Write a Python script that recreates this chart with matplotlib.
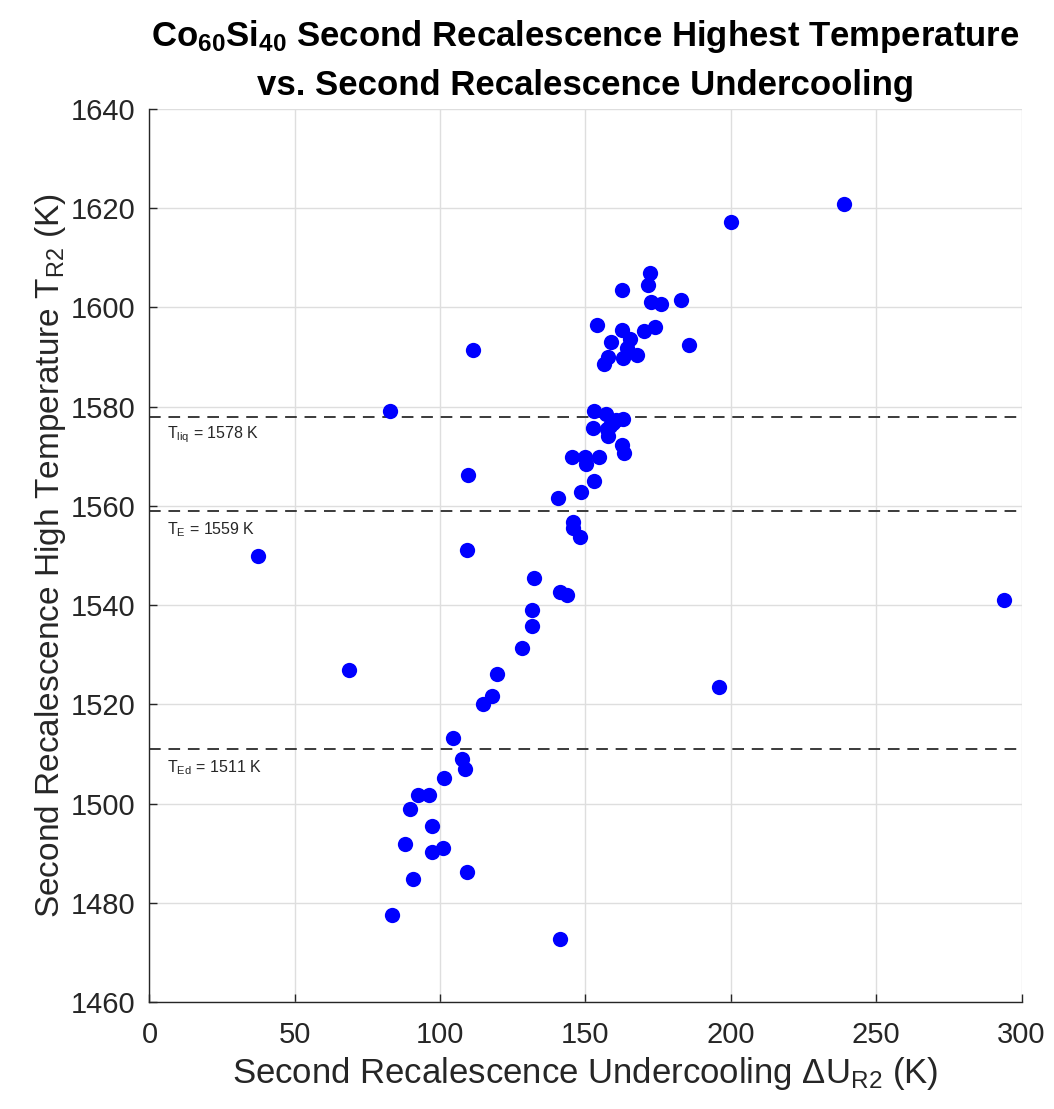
import matplotlib
matplotlib.use("Agg")
import matplotlib.pyplot as plt

# undercooling dU_R2 (K) and second recalescence high temperature T_R2 (K)
undercooling = [
    200.1, 238.8, 293.8, 195.8,
    172.1, 171.6, 162.6, 172.6, 176.0, 182.8, 154.0, 162.6, 165.4, 158.8,
    170.2, 173.9, 185.7, 164.2, 167.7, 162.9, 157.8, 156.5, 111.4,
    82.7, 109.7, 109.3, 37.2, 68.6,
    152.9, 157.0, 163.0, 159.6, 160.5, 158.5, 152.7, 157.3, 157.8, 162.4,
    163.2, 145.4, 150.0, 150.2, 154.5, 152.9, 148.3, 140.5,
    145.8, 145.8, 148.2, 132.3, 141.2, 143.5, 131.5, 131.5, 128.2, 119.4,
    117.7, 114.8, 104.4, 107.6, 108.5, 101.4, 92.3, 96.3, 89.6, 97.1,
    87.9, 97.1, 100.9, 109.4, 90.8, 83.5, 141.2,
]
high_temp = [
    1617.2, 1620.9, 1541.0, 1523.5,
    1607.0, 1604.5, 1603.5, 1601.0, 1600.6, 1601.6, 1596.5, 1595.5, 1593.7, 1593.0,
    1595.3, 1596.0, 1592.4, 1591.8, 1590.4, 1589.8, 1590.0, 1588.7, 1591.4,
    1579.1, 1566.2, 1551.2, 1549.8, 1526.9,
    1579.1, 1578.5, 1577.6, 1576.7, 1577.3, 1576.2, 1575.6, 1575.4, 1574.0, 1572.2,
    1570.6, 1569.9, 1569.8, 1568.5, 1569.9, 1565.1, 1562.7, 1561.6,
    1556.8, 1555.5, 1553.7, 1545.5, 1542.6, 1542.1, 1539.0, 1535.8, 1531.3, 1526.1,
    1521.7, 1520.0, 1513.2, 1508.9, 1507.0, 1505.2, 1501.7, 1501.7, 1499.0, 1495.5,
    1491.8, 1490.2, 1491.1, 1486.2, 1484.7, 1477.5, 1472.6,
]

# reference temperatures
ref_names = ["liq", "E", "Ed"]
ref_temps = [1578, 1559, 1511]

font = "Liberation Sans"
plt.rcParams["font.family"] = [font, "DejaVu Sans"]
plt.rcParams["mathtext.fontset"] = "custom"
plt.rcParams["mathtext.rm"] = font
plt.rcParams["mathtext.it"] = font
plt.rcParams["mathtext.bf"] = font + ":bold"

fig = plt.figure(figsize=(10.54, 11.09), dpi=100)
ax = fig.add_axes([0.1418, 0.0965, 0.8274, 0.8052])

ax.plot(undercooling, high_temp, "o", color=(0, 0, 1), markersize=11,
        markeredgewidth=0, zorder=3)

for name, t in zip(ref_names, ref_temps):
    ax.axhline(t, color="#3a3a3a", linestyle=(0, (6, 4)), linewidth=1.4, zorder=2)
    ax.text(6, t - 3.7, "T$_{\\mathrm{" + name + "}}$ = %d K" % t,
            fontsize=11.5, color="#262626", va="center", ha="left")

ax.set_xlim(0, 300)
ax.set_ylim(1460, 1640)
ax.set_xticks(range(0, 301, 50))
ax.set_yticks(range(1460, 1641, 20))
ax.grid(True, color="#dedede", linewidth=1.0)
ax.set_axisbelow(True)

for side in ["top", "right"]:
    ax.spines[side].set_visible(False)
for side in ["left", "bottom"]:
    ax.spines[side].set_color("#262626")
    ax.spines[side].set_linewidth(1.0)
ax.tick_params(direction="in", length=6, width=1.0, color="#262626",
               labelsize=21, labelcolor="#262626")
ax.tick_params(axis="x", pad=14)
ax.tick_params(axis="y", pad=10)

ax.set_xlabel("Second Recalescence Undercooling $\\Delta$U$_{\\mathrm{R2}}$ (K)",
              fontsize=25, color="#262626", labelpad=4)
ax.set_ylabel("Second Recalescence High Temperature T$_{\\mathrm{R2}}$ (K)",
              fontsize=24, color="#262626", labelpad=2)
ax.set_title("Co$_{\\mathbf{60}}$Si$_{\\mathbf{40}}$ Second Recalescence Highest Temperature\n"
             "vs. Second Recalescence Undercooling",
             fontsize=25, fontweight="bold", color="black",
             linespacing=1.55, pad=10)

fig.savefig("out.png", dpi=100)
